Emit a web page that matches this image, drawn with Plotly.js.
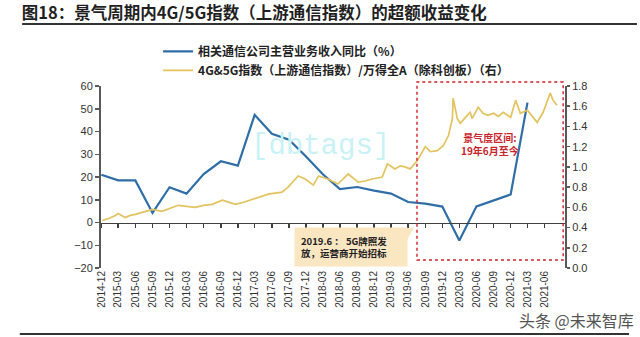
<!DOCTYPE html>
<html>
<head>
<meta charset="utf-8">
<script src="https://cdn.plot.ly/plotly-3.0.1.min.js"></script>
<style>html,body{margin:0;padding:0;background:#fff;}#chart{width:640px;height:337px;}</style>
</head>
<body>
<div id="chart"></div>
<script>
// Quarterly ticks / categories
const quarterLabels = ['2014-12','2015-03','2015-06','2015-09','2015-12','2016-03','2016-06','2016-09','2016-12',
  '2017-03','2017-06','2017-09','2017-12','2018-03','2018-06','2018-09','2018-12','2019-03','2019-06','2019-09',
  '2019-12','2020-03','2020-06','2020-09','2020-12','2021-03','2021-06'];

// Blue series: 相关通信公司主营业务收入同比（%）, quarterly 2014-12 .. 2021-03
const revenueDates = quarterLabels.slice(0, 26);
const revenueYoY = [21, 18.5, 18.5, 4.2, 15.5, 12.7, 21.3, 26.9, 25, 47.3, 39, 36.4, 29, 21.2, 14.7, 15.6, 14, 12.7,
  9, 8.3, 7, -7.9, 7.1, 9.6, 12.3, 52.7];

// Yellow series: 4G&5G指数 / 万得全A (right axis)
const indexDates = ['2014-12-06','2015-01-10','2015-02-14','2015-03-01','2015-04-07','2015-05-05','2015-06-01','2015-07-10',
  '2015-09-01','2015-10-22','2015-12-01','2016-01-16','2016-03-01','2016-04-16','2016-06-01','2016-07-16','2016-09-09',
  '2016-11-18','2017-01-01','2017-02-18','2017-04-01','2017-05-13','2017-07-25','2017-08-27','2017-10-20','2017-11-27',
  '2018-01-09','2018-02-06','2018-03-28','2018-05-21','2018-07-15','2018-09-06','2018-10-15','2018-11-21','2019-01-13',
  '2019-02-10','2019-03-22','2019-04-20','2019-05-15','2019-06-12','2019-07-19','2019-09-01','2019-09-28','2019-11-04',
  '2019-12-06','2020-01-03','2020-01-24','2020-01-28','2020-02-19','2020-03-06','2020-04-03','2020-04-28','2020-05-09',
  '2020-06-10','2020-07-06','2020-08-01','2020-08-31','2020-09-26','2020-10-22','2020-12-01','2020-12-28','2021-01-22',
  '2021-03-01','2021-04-01','2021-04-22','2021-05-24','2021-07-01','2021-07-16','2021-08-06'];
const indexRatio = [0.47,0.49,0.52,0.54,0.50,0.52,0.53,0.55,0.58,0.56,0.59,0.62,0.61,0.60,0.62,0.63,0.67,
  0.63,0.65,0.68,0.70,0.73,0.75,0.80,0.91,0.88,0.82,0.91,0.88,0.83,0.93,0.85,0.86,0.88,0.90,
  1.03,0.98,1.01,1.00,0.98,1.06,1.20,1.15,1.16,1.21,1.31,1.48,1.68,1.48,1.43,1.49,1.54,1.48,
  1.59,1.53,1.51,1.53,1.50,1.54,1.49,1.66,1.53,1.56,1.49,1.44,1.54,1.73,1.66,1.61];

const legendNames = ['相关通信公司主营业务收入同比（%）', '4G&5G指数（上游通信指数）/万得全A（除科创板）（右）'];

const toDate = s => s.length === 7 ? s + '-01' : s;
const tickVals = quarterLabels.map(toDate);
const xRange = ['2014-11-29', '2021-09-18'];
const tickFont = {family: 'Liberation Sans, Arial, sans-serif', size: 11, color: '#333'};
const cjk = 'Noto Sans CJK SC, sans-serif';

const traces = [
  {x: revenueDates.map(toDate), y: revenueYoY, type: 'scatter', mode: 'lines', name: legendNames[0],
   line: {color: '#2f6ea6', width: 2.2}, xaxis: 'x', yaxis: 'y'},
  {x: indexDates, y: indexRatio, type: 'scatter', mode: 'lines', name: legendNames[1],
   line: {color: '#e2c35f', width: 1.7}, xaxis: 'x2', yaxis: 'y2'}
];

const layout = {
  width: 640, height: 337,
  margin: {l: 101, r: 75, t: 86, b: 69},
  paper_bgcolor: '#fff', plot_bgcolor: '#fff',
  showlegend: true,
  title: {text: '图18：景气周期内4G/5G指数（上游通信指数）的超额收益变化', x: 0.034, xanchor: 'left',
          y: 0.961, yanchor: 'middle', font: {family: cjk, size: 16.5, weight: 'bold', color: '#1f1f1f'}},
  legend: {x: 0.123, y: 1.27, xanchor: 'left', yanchor: 'top', bgcolor: 'rgba(0,0,0,0)',
           font: {family: cjk, size: 12, weight: 'bold', color: '#222'}, tracegroupgap: 0},
  xaxis: {type: 'date', range: xRange, tickvals: tickVals, ticktext: quarterLabels, tickangle: -90,
          tickfont: {family: 'Liberation Sans, Arial, sans-serif', size: 10, color: '#333'},
          showgrid: false, zeroline: false, showline: false, ticks: ''},
  xaxis2: {type: 'date', range: xRange, tickvals: tickVals, overlaying: 'x', anchor: 'free', position: 0.25,
           showticklabels: false, showgrid: false, zeroline: false, showline: true, linecolor: '#404040',
           linewidth: 1.8, ticks: 'outside', ticklen: 4, tickcolor: '#404040', tickwidth: 1.5},
  yaxis: {range: [-20, 60], dtick: 10, tickfont: tickFont, showgrid: false, zeroline: false,
          showline: true, linecolor: '#595959', linewidth: 2, ticks: 'outside', ticklen: 4,
          tickcolor: '#595959', tickwidth: 1.5},
  yaxis2: {range: [0, 1.8], dtick: 0.2, tickformat: '.1f', overlaying: 'y', side: 'right', anchor: 'x2',
           tickfont: tickFont, showgrid: false, zeroline: false, showline: true, linecolor: '#595959',
           linewidth: 2, ticks: 'outside', ticklen: 3, tickcolor: '#595959', tickwidth: 1.5},
  shapes: [
    {type: 'line', xref: 'paper', yref: 'paper', x0: -0.170, x1: 1.155, y0: 1.341, y1: 1.341,
     line: {color: '#333', width: 2}},
    {type: 'line', xref: 'paper', yref: 'paper', x0: -0.175, x1: 1.138, y0: -0.363, y1: -0.363,
     line: {color: '#333', width: 2}},
    {type: 'rect', xref: 'paper', yref: 'paper', x0: 0.681, x1: 0.996, y0: 0.044, y1: 1.022,
     line: {color: '#d0202a', width: 1.4, dash: 'dot'}},
    {type: 'path', xref: 'paper', yref: 'paper', path: 'M 0.620 0.190 L 0.675 0.225 L 0.650 0.110 Z',
     fillcolor: '#fbe6c2', line: {width: 0}}
  ],
  annotations: [
    {xref: 'paper', yref: 'paper', x: 0.474, y: 0.665, xanchor: 'center', yanchor: 'middle', text: '[dbtags]',
     showarrow: false, font: {family: 'Liberation Mono, monospace', size: 29, color: '#c9f2f6'}},
    {xref: 'paper', yref: 'paper', x: 0.838, y: 0.679, xanchor: 'center', yanchor: 'middle',
     text: '景气度区间:<br>19年6月至今', showarrow: false,
     font: {family: cjk, size: 10, weight: 'bold', color: '#c8242c'}, align: 'center'},
    {xref: 'paper', yref: 'paper', x: 0.539, y: 0.115, xanchor: 'center', yanchor: 'middle',
     text: '2019.6 ： 5G牌照发<br>放，运营商开始招标',
     showarrow: false, align: 'left', bgcolor: '#fbe6c2', borderpad: 6, width: 100,
     font: {family: cjk, size: 9.5, weight: 'bold', color: '#222'}},
    {xref: 'paper', yref: 'paper', x: 1.024, y: -0.286, xanchor: 'center', yanchor: 'middle',
     text: '头条 @未来智库', showarrow: false,
     font: {family: cjk, size: 16, color: '#555'}}
  ]
};

Plotly.newPlot('chart', traces, layout, {displayModeBar: false, staticPlot: true});
</script>
</body>
</html>
